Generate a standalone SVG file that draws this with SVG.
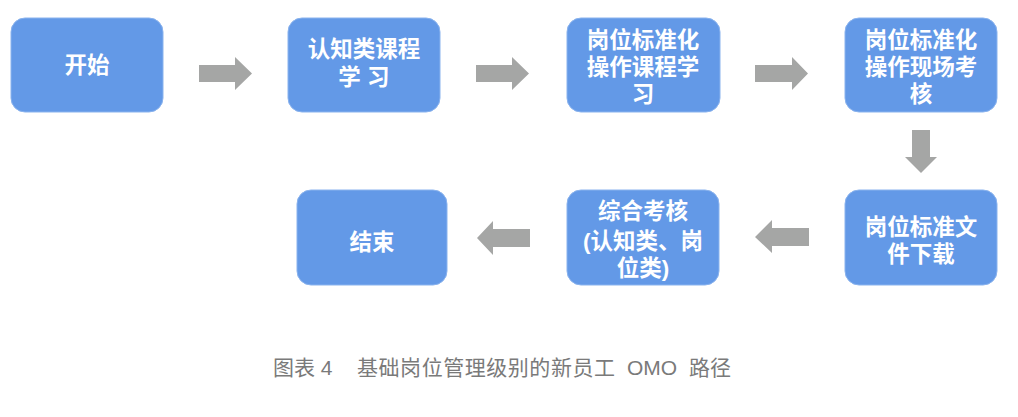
<svg xmlns="http://www.w3.org/2000/svg" width="1018" height="417" viewBox="0 0 1018 417">
<style>
.n{fill:#6399E7;stroke:#8AB3EE;stroke-width:1}
.t{font-family:"Liberation Sans","Noto Sans CJK SC",sans-serif;font-weight:bold;font-size:22.5px;fill:#fff;text-anchor:middle}
.a{fill:#A5A6A5}
.cap{font-family:"Liberation Sans","Noto Sans CJK SC",sans-serif;font-size:21px;fill:#7a7a7a}
</style>
<rect width="1018" height="417" fill="#fff"/>
<g id="connectors">
<polygon class="a" points="199,65 235,65 235,57 252,73.5 235,90 235,82 199,82"/>
<polygon class="a" points="476,65 512,65 512,57 529,73.5 512,90 512,82 476,82"/>
<polygon class="a" points="755,65 792,65 792,57 808,73.5 792,90 792,82 755,82"/>
<polygon class="a" points="912,130 930,130 930,157 937,157 921,173 905,157 912,157"/>
<polygon class="a" points="809,228 772,228 772,220 755,237 772,253 772,246 809,246"/>
<polygon class="a" points="530,229 493,229 493,221 477,238 493,255 493,247 530,247"/>
</g>
<g id="n1"><rect class="n" x="11" y="18" width="152" height="94" rx="14"/><text class="t" x="87" y="73">开始</text></g>
<g id="n2"><rect class="n" x="288" y="18" width="152" height="94" rx="14"/><text class="t" x="364" y="57">认知类课程</text><text class="t" x="364" y="85">学 习</text></g>
<g id="n3"><rect class="n" x="567" y="18" width="153" height="94" rx="14"/><text class="t" x="643" y="48">岗位标准化</text><text class="t" x="643" y="75">操作课程学</text><text class="t" x="643" y="102">习</text></g>
<g id="n4"><rect class="n" x="845" y="18" width="152" height="94" rx="14"/><text class="t" x="921" y="48">岗位标准化</text><text class="t" x="921" y="75">操作现场考</text><text class="t" x="921" y="102">核</text></g>
<g id="n5"><rect class="n" x="845" y="190" width="152" height="95" rx="14"/><text class="t" x="921" y="235">岗位标准文</text><text class="t" x="921" y="262">件下载</text></g>
<g id="n6"><rect class="n" x="567" y="190" width="152" height="95" rx="14"/><text class="t" x="643" y="219">综合考核</text><text class="t" x="643" y="249">(认知类、岗</text><text class="t" x="643" y="276">位类)</text></g>
<g id="n7"><rect class="n" x="297" y="190" width="150" height="95" rx="14"/><text class="t" x="372" y="250">结束</text></g>
<text class="cap" y="375"><tspan x="273">图表 4</tspan><tspan x="357" textLength="258">基础岗位管理级别的新员工</tspan><tspan x="627">OMO</tspan><tspan x="689">路径</tspan></text>
</svg>
